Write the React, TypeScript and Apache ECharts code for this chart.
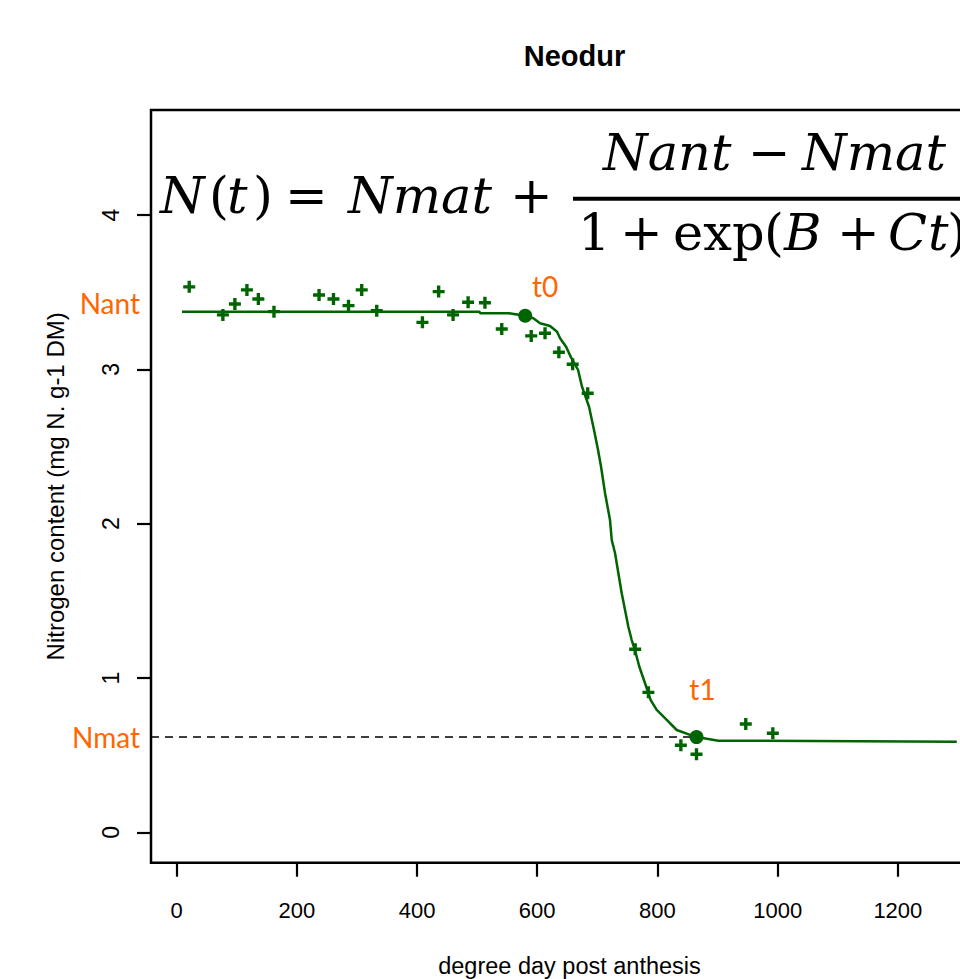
import React, { useEffect, useRef } from "react";
import * as echarts from "echarts";

// ---- data ----
const chartTitle = "Neodur";
const xAxisTitle = "degree day post anthesis";
const yAxisTitle = "Nitrogen content (mg N. g-1 DM)";

const xTicks = [0, 200, 400, 600, 800, 1000, 1200];
const yTicks = [0, 1, 2, 3, 4];
const xRange = [-42.6, 1350];
const yRange = [-0.197, 4.681];

// observed points (+)
const obsX = [21, 77, 97, 117, 136, 162, 237, 261, 286, 308, 333, 409, 436, 460, 485, 513, 541, 590, 613, 636, 659, 684, 763, 785, 839, 865, 947, 992];
const obsY = [3.535, 3.353, 3.424, 3.515, 3.456, 3.374, 3.482, 3.456, 3.413, 3.515, 3.38, 3.305, 3.504, 3.353, 3.435, 3.432, 3.262, 3.217, 3.234, 3.111, 3.033, 2.845, 1.186, 0.907, 0.564, 0.506, 0.702, 0.642];

// fitted curve
const fitX = [9, 503.7, 505, 553, 579.7, 593.5, 604.7, 621.3, 633, 638, 648, 656.2, 668, 674.5, 686.2, 694.5, 701.2, 706.2, 712.8, 721.1, 724, 729.5, 735, 740.6, 746.1, 751.6, 757.2, 762.6, 769.9, 779.4, 788.8, 798.8, 815.5, 832.1, 854.2, 865.4, 901.3, 1298];
const fitY = [3.374, 3.374, 3.364, 3.364, 3.348, 3.331, 3.299, 3.281, 3.244, 3.202, 3.147, 3.078, 2.996, 2.888, 2.758, 2.607, 2.478, 2.369, 2.199, 2.024, 1.894, 1.808, 1.679, 1.549, 1.441, 1.332, 1.246, 1.181, 1.073, 0.966, 0.857, 0.793, 0.728, 0.663, 0.631, 0.617, 0.594, 0.587];

// t0 / t1 knots
const knotNames = ["t0", "t1"];
const knotX = [580, 865];
const knotY = [3.348, 0.617];

// Nmat reference (dashed)
const nmatValue = 0.617;
const nmatEndX = 865;

const GREEN = "#006400";
const ORANGE = "#FF6600";

export default function App() {
  const ref = useRef<HTMLDivElement>(null);

  useEffect(() => {
    document.body.style.margin = "0";
    document.body.style.overflow = "hidden";
    if (!ref.current) return;
    const chart = echarts.init(ref.current, null, { renderer: "svg" });

    const plusPath = "path://M3.6,0H6.4V3.6H10V6.4H6.4V10H3.6V6.4H0V3.6H3.6Z";
    const labelOffsets = [[20, -30], [6, -48]];

    const serif = "DejaVu Serif";
    const fs = 51;
    const mathText = (t: string, x: number, y: number, italic: boolean) => ({
      type: "text",
      x,
      y,
      style: {
        text: t,
        fontFamily: serif,
        fontSize: fs,
        fontStyle: italic ? "italic" : "normal",
        fill: "#000",
        align: "left",
        verticalAlign: "middle",
      },
    });
    const yMain = 195;
    const yNum = 152;
    const yDen = 232;

    const tickFmt = (v: number) => String(v);

    chart.setOption({
      animation: false,
      backgroundColor: "#fff",
      title: {
        text: chartTitle,
        left: 569.5,
        top: 36,
        textAlign: "center",
        textStyle: {
          fontFamily: "Liberation Sans",
          fontWeight: "bold",
          fontSize: 29,
          lineHeight: 29,
          color: "#000",
        },
      },
      grid: {
        left: 151,
        right: -28,
        top: 110,
        bottom: 116.3,
        show: true,
        borderColor: "#000",
        borderWidth: 2.5,
        outerBoundsMode: "none",
      },
      xAxis: {
        type: "value",
        min: xRange[0],
        max: xRange[1],
        name: xAxisTitle,
        nameLocation: "middle",
        nameGap: 92,
        nameTextStyle: { fontFamily: "Liberation Sans", fontSize: 23.5, lineHeight: 23, color: "#000" },
        axisLine: { show: false, onZero: false },
        splitLine: { show: false },
        axisTick: { show: true, length: 14, customValues: xTicks, lineStyle: { color: "#000", width: 2.2 } },
        axisLabel: {
          customValues: xTicks,
          formatter: tickFmt,
          margin: 37,
          fontFamily: "Liberation Sans",
          fontSize: 22,
          lineHeight: 22,
          color: "#000",
        },
      },
      yAxis: {
        type: "value",
        min: yRange[0],
        max: yRange[1],
        name: yAxisTitle,
        nameLocation: "middle",
        nameGap: 84,
        nameTextStyle: { fontFamily: "Liberation Sans", fontSize: 24, lineHeight: 24, color: "#000" },
        axisLine: { show: false, onZero: false },
        splitLine: { show: false },
        axisTick: { show: true, length: 14, customValues: yTicks, lineStyle: { color: "#000", width: 2.2 } },
        axisLabel: {
          customValues: yTicks,
          formatter: tickFmt,
          rotate: 90,
          margin: 29,
          fontFamily: "Liberation Sans",
          fontSize: 23,
          lineHeight: 23,
          color: "#000",
        },
      },
      series: [
        {
          type: "line",
          data: [[xRange[0], nmatValue], [nmatEndX, nmatValue]],
          showSymbol: false,
          lineStyle: { color: "#000", width: 1.5, type: [8, 6] },
          z: 2,
        },
        {
          type: "line",
          data: fitX.map((x, i) => [x, fitY[i]]),
          showSymbol: false,
          smooth: false,
          lineStyle: { color: GREEN, width: 2.5 },
          z: 3,
        },
        {
          type: "scatter",
          data: obsX.map((x, i) => [x, obsY[i]]),
          symbol: plusPath,
          symbolSize: 12,
          itemStyle: { color: GREEN, opacity: 1 },
          z: 4,
        },
        {
          type: "scatter",
          data: knotX.map((x, i) => ({
            value: [x, knotY[i]],
            name: knotNames[i],
            label: { offset: labelOffsets[i] },
          })),
          symbol: "circle",
          symbolSize: 14,
          itemStyle: { color: GREEN, opacity: 1 },
          label: {
            show: true,
            position: "inside",
            formatter: (p: any) => p.name,
            fontFamily: "Lato",
            fontSize: 28,
            color: ORANGE,
            opacity: 1,
          },
          z: 5,
        },
      ],
      graphic: [
        {
          type: "text",
          x: 140,
          y: 303,
          style: { text: "Nant", fontFamily: "Lato", fontSize: 28, fill: ORANGE, align: "right", verticalAlign: "middle" },
        },
        {
          type: "text",
          x: 140,
          y: 737,
          style: { text: "Nmat", fontFamily: "Lato", fontSize: 28, fill: ORANGE, align: "right", verticalAlign: "middle" },
        },
        mathText("N", 160, yMain, true),
        mathText("(", 209, yMain, false),
        mathText("t", 227, yMain, true),
        mathText(")", 253, yMain, false),
        mathText("=", 285, yMain, false),
        mathText("Nmat", 348, yMain, true),
        mathText("+", 510, yMain, false),
        mathText("Nant", 603, yNum, true),
        mathText("\u2212", 748, yNum, false),
        mathText("Nmat", 802, yNum, true),
        {
          type: "rect",
          shape: { x: 573, y: 196.7, width: 450, height: 4 },
          style: { fill: "#000" },
        },
        mathText("1", 578, yDen, false),
        mathText("+", 620, yDen, false),
        mathText("exp", 673, yDen, false),
        mathText("(", 764, yDen, false),
        mathText("B", 784, yDen, true),
        mathText("+", 837, yDen, false),
        mathText("C", 888, yDen, true),
        mathText("t", 928, yDen, true),
        mathText(")", 947, yDen, false),
      ],
    });

    return () => chart.dispose();
  }, []);

  return <div ref={ref} style={{ width: 960, height: 979 }} />;
}
